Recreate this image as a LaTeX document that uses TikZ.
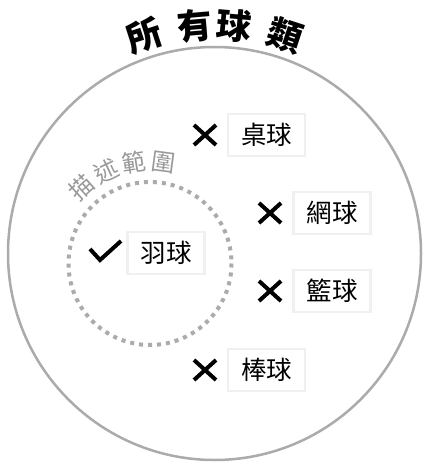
\documentclass[tikz,border=0pt]{standalone}
\usepackage{fontspec}
\usetikzlibrary{calc}
\newfontfamily\cjk{Noto Sans CJK TC}
\begin{document}
\begin{tikzpicture}[x=1pt,y=-1pt,
  lbl/.style={draw=black!6,line width=2.5pt,fill=white,minimum width=77pt,minimum height=42pt,inner sep=0pt,font=\cjk\fontsize{25.5}{25.5}\selectfont},
  ttl/.style={font=\cjk\bfseries\fontsize{35}{35}\selectfont,inner sep=0pt},
  scp/.style={font=\cjk\fontsize{24}{24}\selectfont,text=black!40,inner sep=0pt},
  mk/.style={line width=4pt,black}]
\useasboundingbox (0,0) rectangle (432,465);
\fill[white] (0,0) rectangle (432,465);
\coordinate (C) at (214.5,253.5);
\coordinate (D) at (150,263.5);
\node[circle,draw=black!33,line width=2.5pt,minimum size=413pt,inner sep=0pt] (all) at (C) {};
\draw[black!33,line width=4pt,dash pattern=on 4pt off 5pt] (D) circle[radius=81.5];
% title
\foreach \a/\t [count=\i] in {108/所,95/有,85/球,72/類}
  \node[ttl,rotate=\a-90] (t\i) at ($(C)+(\a:229 and -229)$) {\t};
% scope label
\foreach \a/\t [count=\i] in {132/描,115.5/述,99/範,82.5/圍}
  \node[scp,rotate=\a-90] (s\i) at ($(D)+(\a:102 and -102)$) {\t};
% labels
\node[lbl] (pp) at (266.5,135) {桌球};
\node[lbl] (tn) at (332,213) {網球};
\node[lbl] (bd) at (166,253) {羽球};
\node[lbl] (bk) at (332,291) {籃球};
\node[lbl] (bb) at (266.5,370) {棒球};
% marks
\foreach \n/\x/\y in {x1/205/135,x2/270/213,x3/270/291,x4/205/370}{
  \coordinate (\n) at (\x,\y);
  \draw[mk] ($(\n)+(-11,-10)$) -- ($(\n)+(11,10)$);
  \draw[mk] ($(\n)+(-11,10)$) -- ($(\n)+(11,-10)$);
}
\coordinate (ck) at (105,252);
\draw[mk,line join=miter] ($(ck)+(-15,-3)$) -- ($(ck)+(-5,8)$) -- ($(ck)+(16,-11)$);
\end{tikzpicture}
\end{document}
